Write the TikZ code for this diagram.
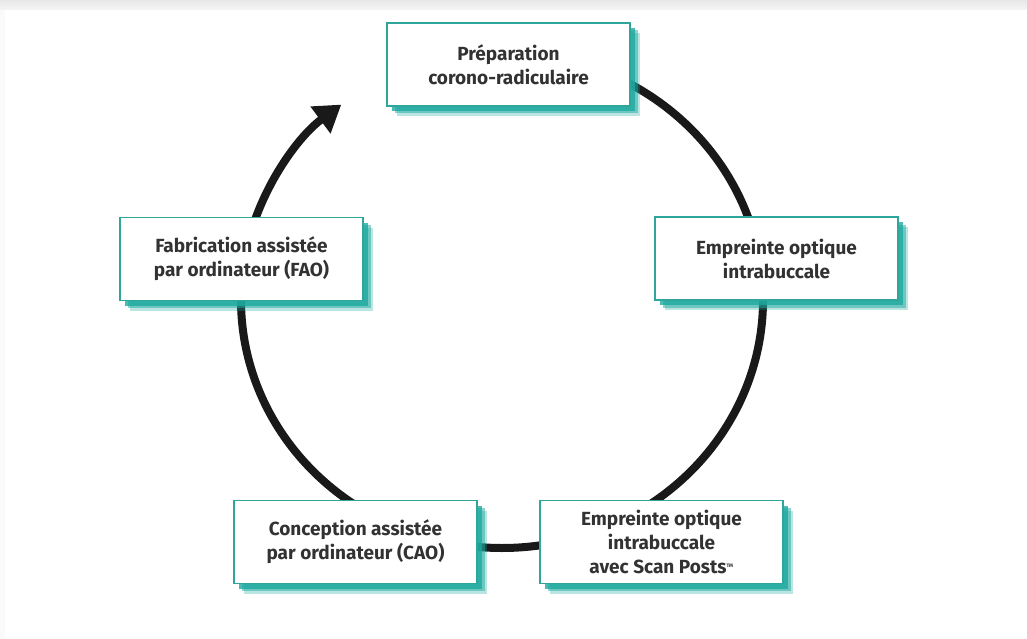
\documentclass[tikz,border=0pt]{standalone}
\usepackage{fontspec}
\setmainfont{Fira Sans}
\usetikzlibrary{arrows.meta,shadows,calc}
\definecolor{tealb}{RGB}{48,165,155}
\definecolor{tealsh}{RGB}{30,170,160}
\definecolor{txt}{RGB}{50,50,50}
\tikzset{
  stepbox/.style={draw=tealb, line width=1.8, fill=white,
    minimum width=243, minimum height=83, inner sep=0pt,
    align=center, text=txt,
    font=\fontsize{19}{24}\selectfont\bfseries,
    drop shadow={fill=tealsh, opacity=0.3, shadow xshift=10pt, shadow yshift=-10pt},
    drop shadow={fill=tealsh, opacity=0.5, shadow xshift=7.5pt, shadow yshift=-7.5pt},
    drop shadow={fill=tealsh, opacity=0.8, shadow xshift=5pt, shadow yshift=-5pt}},
  link/.style={line width=8, draw=black!90},
  ell/.style={x radius=261, y radius=248},
}
\begin{document}
\begin{tikzpicture}[x=1pt,y=-1pt]
\useasboundingbox (0,0) rectangle (1027,639);
\fill[white] (0,0) rectangle (1027,639);
\shade[top color=black!9, bottom color=black!4] (0,0) rectangle (1027,10);
\fill[black!2] (0,10) rectangle (5,639);

% ellipse of the cycle
\coordinate (c) at (502,300);
\coordinate (a1) at ($(c)+(-62:261 and 248)$);
\coordinate (a2) at ($(c)+(-2:261 and 248)$);
\coordinate (a3) at ($(c)+(80:261 and 248)$);
\coordinate (a4) at ($(c)+(124:261 and 248)$);
\coordinate (a5) at ($(c)+(197:261 and 248)$);

\draw[link] (a1) arc[ell, start angle=-62, end angle=-16];
\draw[link] (a2) arc[ell, start angle=-2, end angle=56];
\draw[link] (a3) arc[ell, start angle=80, end angle=100];
\draw[link] (a4) arc[ell, start angle=124, end angle=182];
\draw[link, -{Triangle[length=26, width=32]}] (a5) arc[ell, start angle=197, end angle=232];

% boxes
\node[stepbox] (prep) at (508.5,64.5) {Préparation\\corono-radiculaire};
\node[stepbox] (emp1) at (776.5,258.5) {Empreinte optique\\intrabuccale};
\node[stepbox] (scan) at (661.5,542) {Empreinte optique\\intrabuccale\\avec Scan Posts\textsuperscript{\tiny TM}};
\node[stepbox] (cao) at (355.5,542) {Conception assistée\\par ordinateur (CAO)};
\node[stepbox] (fao) at (241.5,259) {Fabrication assistée\\par ordinateur (FAO)};
\end{tikzpicture}
\end{document}
